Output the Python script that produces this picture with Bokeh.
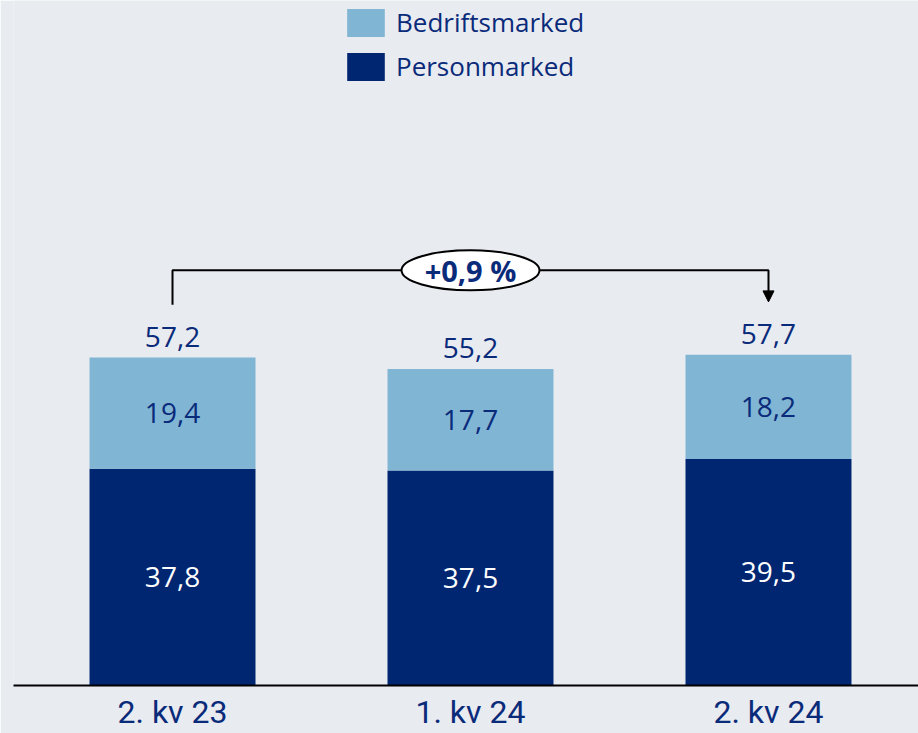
from bokeh.plotting import figure
from bokeh.models import ColumnDataSource, FixedTicker, Legend, LegendItem, Arrow, NormalHead, Range1d
from bokeh.embed import file_html
from bokeh.resources import INLINE
from bokeh.core.properties import value

quarters = ["2. kv 23", "1. kv 24", "2. kv 24"]
personmarked = [37.8, 37.5, 39.5]
bedriftsmarked = [19.4, 17.7, 18.2]
totals = [57.2, 55.2, 57.7]

BG = "#e8ebf0"
LIGHT = "#80b5d4"
DARK = "#002672"
NAVY = "#0a2a7a"

def fmt(v):
    return f"{v:.1f}".replace(".", ",")

xs = list(range(len(quarters)))
src = ColumnDataSource(dict(
    x=xs,
    person=personmarked,
    bedrift=bedriftsmarked,
    total=totals,
    person_mid=[p / 2 for p in personmarked],
    bedrift_mid=[p + b / 2 for p, b in zip(personmarked, bedriftsmarked)],
    person_lbl=[fmt(v) for v in personmarked],
    bedrift_lbl=[fmt(v) for v in bedriftsmarked],
    total_lbl=[fmt(v) for v in totals],
))

p = figure(width=918, height=733, output_backend="svg", toolbar_location=None,
           x_range=Range1d(-0.5336, 2.5034), y_range=Range1d(0, 119.46),
           min_border_left=13, min_border_right=0, min_border_top=0, min_border_bottom=48)
p.background_fill_color = BG
p.border_fill_color = BG
p.outline_line_color = None
p.grid.visible = False
p.yaxis.visible = False

bw = 0.557
r = p.vbar_stack(["person", "bedrift"], x="x", width=bw, color=[DARK, LIGHT], source=src, line_color=None)

p.text(x="x", y="person_mid", text="person_lbl", source=src, text_color="white",
       text_font=value("Open Sans"), text_font_size="28px", text_align="center", text_baseline="middle")
p.text(x="x", y="bedrift_mid", text="bedrift_lbl", source=src, text_color=NAVY,
       text_font=value("Open Sans"), text_font_size="28px", text_align="center", text_baseline="middle")
p.text(x="x", y="total", text="total_lbl", source=src, text_color=NAVY, y_offset=-21,
       text_font=value("Open Sans"), text_font_size="28px", text_align="center", text_baseline="alphabetic")

# change bracket
change = (totals[-1] - totals[0]) / totals[0] * 100
top = max(totals) + 14.7
p.line(x=[xs[0], xs[0], xs[-1], xs[-1]], y=[totals[0] + 9.2, top, top, totals[-1] + 11],
       line_color="black", line_width=2)
p.add_layout(Arrow(end=NormalHead(size=11, fill_color="black", line_color="black"),
                   x_start=xs[-1], y_start=totals[-1] + 11, x_end=xs[-1], y_end=totals[-1] + 9.2,
                   line_color="black", line_width=2))
mid = (xs[0] + xs[-1]) / 2
p.ellipse(x=[mid], y=[top], width=0.463, height=6.98, fill_color="white", line_color="black", line_width=2)
p.text(x=[mid], y=[top], text=[f"+{change:.1f} %".replace(".", ",")], text_color=NAVY,
       text_font=value("Open Sans"), text_font_style="bold", text_font_size="29px",
       text_align="center", text_baseline="middle")

p.xaxis.ticker = FixedTicker(ticks=xs)
p.xaxis.major_label_overrides = {i: q for i, q in enumerate(quarters)}
p.xaxis.axis_line_color = "black"
p.xaxis.axis_line_width = 2
p.xaxis.major_tick_line_color = None
p.xaxis.minor_tick_line_color = None
p.xaxis.major_tick_out = 0
p.xaxis.major_tick_in = 0
p.xaxis.major_label_text_font = "Roboto"
p.xaxis.major_label_text_font_size = "32px"
p.xaxis.major_label_text_color = NAVY
p.xaxis.major_label_standoff = 7

legend = Legend(items=[LegendItem(label="Bedriftsmarked", renderers=[r[1]]),
                       LegendItem(label="Personmarked", renderers=[r[0]])],
                location=(329, 601), orientation="vertical",
                glyph_width=47, glyph_height=35, spacing=8, label_standoff=7,
                padding=0, margin=0, border_line_color=None, background_fill_alpha=0,
                label_text_font="Open Sans", label_text_font_size="26px", label_text_color=NAVY,
                label_height=35)
p.add_layout(legend)

open("out.html", "w").write(file_html(p, INLINE))
